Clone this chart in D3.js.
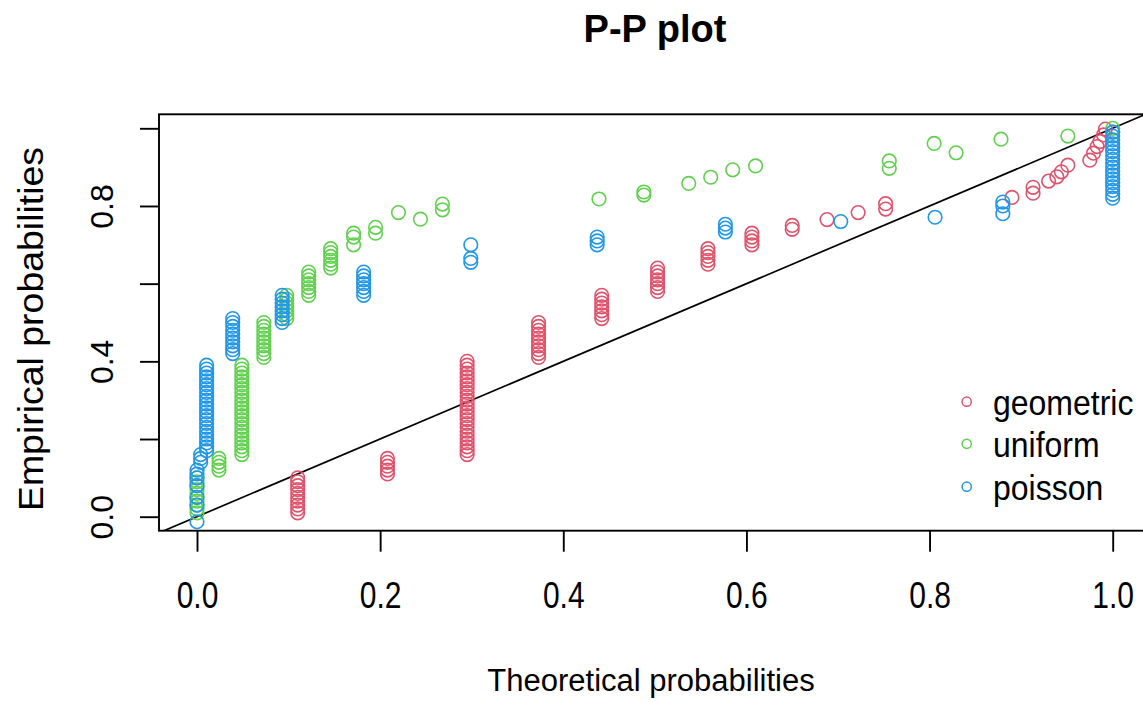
<!DOCTYPE html>
<html><head><meta charset="utf-8">
<script src="https://cdn.jsdelivr.net/npm/d3@7"></script>
<style>
body{margin:0;background:#fff;}
svg{display:block;}
text{font-family:"Liberation Sans",Arial,Helvetica,sans-serif;fill:#000;}
</style>
</head><body>
<svg id="chart" width="1143" height="702"></svg>
<script>
// ---- data ----
const seriesNames = ["geometric", "uniform", "poisson"];
const seriesColors = ["#DF536B", "#61D04F", "#2297E6"];
const xTicks = [0, 0.2, 0.4, 0.6, 0.8, 1.0];
const yTicks = [0, 0.2, 0.4, 0.6, 0.8, 1.0];
const yTickLabels = ["0.0", "", "0.4", "", "0.8", ""];

// geometric: theoretical probabilities and empirical probabilities at each
const geomTheo = [0.110, 0.208, 0.295, 0.373, 0.442, 0.503, 0.558, 0.606, 0.650, 0.688, 0.722, 0.752,
  0.890, 0.913, 0.930, 0.939, 0.944, 0.951, 0.975, 0.979, 0.983, 0.986, 0.990, 0.992];
const geomEmp = [
  [0.01, 0.02, 0.03, 0.04, 0.05, 0.06, 0.07, 0.08, 0.09, 0.10],
  [0.11, 0.12, 0.13, 0.14, 0.15],
  [0.16, 0.17, 0.18, 0.19, 0.20, 0.21, 0.22, 0.23, 0.24, 0.25, 0.26, 0.27, 0.28, 0.29, 0.30, 0.31, 0.32, 0.33, 0.34, 0.35, 0.36, 0.37, 0.38, 0.39, 0.40],
  [0.41, 0.42, 0.43, 0.44, 0.45, 0.46, 0.47, 0.48, 0.49, 0.50],
  [0.51, 0.52, 0.53, 0.54, 0.55, 0.56, 0.57],
  [0.58, 0.59, 0.60, 0.61, 0.62, 0.63, 0.64],
  [0.65, 0.66, 0.67, 0.68, 0.69],
  [0.70, 0.71, 0.72, 0.73],
  [0.74, 0.75],
  [0.765],
  [0.783],
  [0.792, 0.806],
  [0.822],
  [0.833, 0.848],
  [0.864],
  [0.875],
  [0.888],
  [0.905],
  [0.918],
  [0.936],
  [0.953],
  [0.966],
  [0.983],
  [0.998]
];

// uniform
const unifTheo = [0.000, 0.024, 0.049, 0.073, 0.098, 0.122, 0.146, 0.171, 0.195, 0.220, 0.244, 0.268,
  0.439, 0.488, 0.537, 0.561, 0.585, 0.610, 0.756, 0.805, 0.829, 0.878, 0.951, 1.000];
const unifEmp = [
  [0.01, 0.02, 0.03, 0.04, 0.05, 0.06, 0.07, 0.08, 0.09, 0.10],
  [0.12, 0.13, 0.14, 0.15],
  [0.16, 0.17, 0.18, 0.19, 0.20, 0.21, 0.22, 0.23, 0.24, 0.25, 0.26, 0.27, 0.28, 0.29, 0.30, 0.31, 0.32, 0.33, 0.34, 0.35, 0.36, 0.37, 0.38, 0.39],
  [0.41, 0.42, 0.43, 0.44, 0.45, 0.46, 0.47, 0.48, 0.49, 0.50],
  [0.51, 0.52, 0.53, 0.54, 0.55, 0.56, 0.57],
  [0.57, 0.58, 0.59, 0.60, 0.61, 0.62, 0.63],
  [0.64, 0.65, 0.66, 0.67, 0.68, 0.69],
  [0.70, 0.72, 0.73],
  [0.73, 0.745],
  [0.783],
  [0.766],
  [0.79, 0.805],
  [0.818],
  [0.828, 0.836],
  [0.858],
  [0.874],
  [0.893],
  [0.903],
  [0.897, 0.916],
  [0.961],
  [0.937],
  [0.972],
  [0.98],
  [0.99, 1.00]
];

// poisson
const poisTheo = [0.000, 0.004, 0.0105, 0.039, 0.093, 0.182, 0.299, 0.437, 0.577, 0.703, 0.806, 0.880, 1.000];
const poisEmp = [
  [-0.013, 0.03, 0.05, 0.08, 0.10, 0.11, 0.12],
  [0.14, 0.15, 0.16],
  [0.17, 0.18, 0.19, 0.20, 0.21, 0.22, 0.23, 0.24, 0.25, 0.26, 0.27, 0.28, 0.29, 0.30, 0.31, 0.32, 0.33, 0.34, 0.35, 0.36, 0.37, 0.38, 0.39],
  [0.42, 0.43, 0.44, 0.45, 0.46, 0.47, 0.48, 0.49, 0.50, 0.51],
  [0.50, 0.51, 0.52, 0.53, 0.54, 0.55, 0.56, 0.57],
  [0.57, 0.58, 0.59, 0.60, 0.61, 0.62, 0.63],
  [0.655, 0.665, 0.70],
  [0.70, 0.71, 0.72],
  [0.733, 0.743, 0.753],
  [0.76],
  [0.771],
  [0.78, 0.80, 0.81],
  [0.82, 0.83, 0.84, 0.85, 0.86, 0.87, 0.88, 0.89, 0.90, 0.91, 0.92, 0.93, 0.94, 0.95, 0.96, 0.97, 0.98, 0.99]
];

const seriesTheo = [geomTheo, unifTheo, poisTheo];
const seriesEmp = [geomEmp, unifEmp, poisEmp];

// ---- layout ----
const W = 1143, H = 702;
const box = {left: 159, right: 1150, top: 114.3, bottom: 530.7};
const svg = d3.select("#chart");

const x = d3.scaleLinear().domain([0, 1]).range([197, 1112.7]);
const y = d3.scaleLinear().domain([0, 1]).range([516.7, 128.3]);

svg.append("rect").attr("width", W).attr("height", H).attr("fill", "#fff");

svg.append("clipPath").attr("id", "plotclip")
  .append("rect")
  .attr("x", box.left).attr("y", box.top)
  .attr("width", box.right - box.left).attr("height", box.bottom - box.top);

// reference line y = x
svg.append("line")
  .attr("clip-path", "url(#plotclip)")
  .attr("x1", x(-0.1)).attr("y1", y(-0.1))
  .attr("x2", x(1.1)).attr("y2", y(1.1))
  .attr("stroke", "#000").attr("stroke-width", 1.7);

// points
seriesNames.forEach((name, si) => {
  const pts = [];
  seriesTheo[si].forEach((t, i) => seriesEmp[si][i].forEach(e => pts.push({t, e})));
  svg.append("g").attr("class", "series-" + name)
    .selectAll("circle").data(pts).join("circle")
    .attr("cx", d => x(d.t))
    .attr("cy", d => y(d.e))
    .attr("r", 6.8)
    .attr("fill", "none")
    .attr("stroke", seriesColors[si])
    .attr("stroke-width", 1.6);
});

// box
svg.append("rect")
  .attr("x", box.left).attr("y", box.top)
  .attr("width", box.right - box.left).attr("height", box.bottom - box.top)
  .attr("fill", "none").attr("stroke", "#000").attr("stroke-width", 1.9);

// x axis
const gx = svg.append("g").attr("transform", `translate(0,${box.bottom})`)
  .call(d3.axisBottom(x).tickValues(xTicks).tickSize(21).tickSizeOuter(0).tickFormat(d3.format(".1f")));
gx.select(".domain").remove();
gx.selectAll(".tick line").attr("stroke", "#000").attr("stroke-width", 1.9);
gx.selectAll(".tick text")
  .attr("y", 0).attr("dy", 0)
  .attr("transform", "translate(0,77) scale(1,1.25)")
  .attr("font-size", 30).attr("font-family", '"Liberation Sans",Arial,sans-serif')
  .attr("fill", "#000");

// y axis
const gy = svg.append("g").attr("transform", `translate(${box.left},0)`)
  .call(d3.axisLeft(y).tickValues(yTicks).tickSize(19).tickSizeOuter(0).tickFormat((d, i) => yTickLabels[i]));
gy.select(".domain").remove();
gy.selectAll(".tick line").attr("stroke", "#000").attr("stroke-width", 1.9);
gy.selectAll(".tick text")
  .attr("x", 0).attr("dy", 0)
  .attr("text-anchor", "middle")
  .attr("transform", "translate(-46,0) rotate(-90)")
  .attr("font-size", 32).attr("font-family", '"Liberation Sans",Arial,sans-serif')
  .attr("fill", "#000");

// title and axis titles
svg.append("text")
  .attr("x", 655).attr("y", 42)
  .attr("text-anchor", "middle")
  .attr("font-weight", "bold").attr("font-size", 38)
  .text("P-P plot");

svg.append("text")
  .attr("x", 651).attr("y", 691)
  .attr("text-anchor", "middle")
  .attr("font-size", 31)
  .text("Theoretical probabilities");

svg.append("text")
  .attr("transform", "translate(43,329) rotate(-90) scale(1.07,1)")
  .attr("text-anchor", "middle")
  .attr("font-size", 35)
  .text("Empirical probabilities");

// legend
const legendY = [401.7, 443.8, 486.7];
const leg = svg.append("g");
seriesNames.forEach((name, i) => {
  leg.append("circle")
    .attr("cx", 966.7).attr("cy", legendY[i]).attr("r", 4.6)
    .attr("fill", "none").attr("stroke", seriesColors[i]).attr("stroke-width", 1.5);
  leg.append("text")
    .attr("transform", `translate(993,${legendY[i] + 13}) scale(1,1.1)`)
    .attr("font-size", 32)
    .text(name);
});
</script>
</body></html>
